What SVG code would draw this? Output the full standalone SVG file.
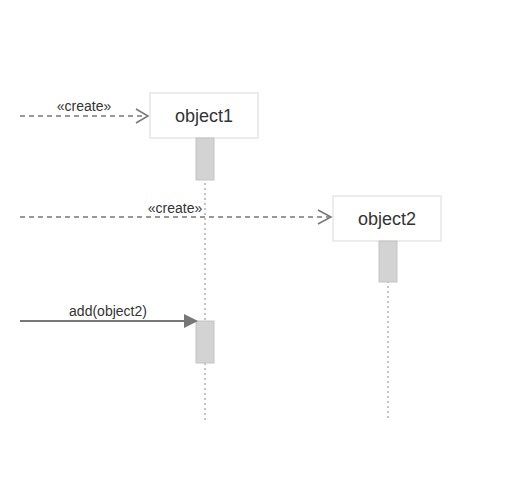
<svg xmlns="http://www.w3.org/2000/svg" width="528" height="490" viewBox="0 0 528 490">
<style>
.box{fill:#fff;stroke:#e6e6e6;stroke-width:1.5}
.act{fill:#d3d3d3;stroke:#c4c4c4;stroke-width:1}
.life{stroke:#888;stroke-width:1;stroke-dasharray:2 3}
.dash{stroke:#777;stroke-width:1.5;stroke-dasharray:5 4;fill:none}
.open{stroke:#777;stroke-width:1.5;fill:none}
.t{font-family:"Liberation Sans",Arial,sans-serif;fill:#333}
</style>
<rect width="528" height="490" fill="#fff"/>
<g id="lifelines">
<line class="life" x1="205" y1="138" x2="205" y2="420"/>
<line class="life" x1="388" y1="241" x2="388" y2="420"/>
</g>
<g id="object1">
<rect class="box" x="150" y="93" width="108" height="45"/>
<text class="t" x="204" y="122" font-size="18" text-anchor="middle">object1</text>
<rect class="act" x="196" y="138" width="18" height="42"/>
<rect class="act" x="196" y="321" width="18" height="42"/>
</g>
<g id="object2">
<rect class="box" x="333" y="196" width="108" height="45"/>
<text class="t" x="387" y="225" font-size="18" text-anchor="middle">object2</text>
<rect class="act" x="379" y="241" width="18" height="41"/>
</g>
<g id="connectors">
<line class="dash" x1="20" y1="116" x2="146" y2="116"/>
<polyline class="open" points="136,109 148,116 136,123"/>
<text class="t" x="84" y="111" font-size="14" text-anchor="middle">«create»</text>
<line class="dash" x1="20" y1="217" x2="329" y2="217"/>
<polyline class="open" points="318,210 331,217 318,224"/>
<text class="t" x="175" y="213" font-size="14" text-anchor="middle">«create»</text>
<line x1="20" y1="321" x2="186" y2="321" stroke="#777" stroke-width="2"/>
<polygon points="184,314 198,321 184,328" fill="#777"/>
<text class="t" x="108" y="316" font-size="14" text-anchor="middle">add(object2)</text>
</g>
</svg>
